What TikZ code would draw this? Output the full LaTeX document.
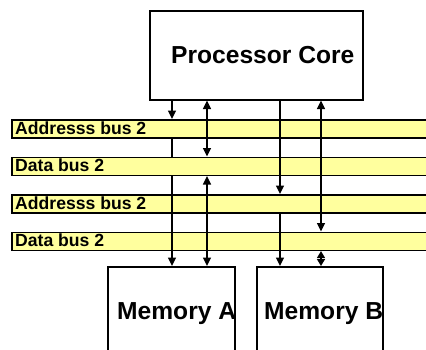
\documentclass[tikz,border=0pt]{standalone}
\usepackage{fontspec}
\setmainfont{Liberation Sans}
\usetikzlibrary{arrows.meta}
\definecolor{busyellow}{RGB}{255,255,158}
\tikzset{
  box/.style={draw=black, line width=1.5pt, fill=white, inner sep=0pt, anchor=north west},
  bus/.style={draw=black, line width=1.6pt, fill=busyellow, inner sep=0pt, anchor=north west, minimum width=430pt, minimum height=18pt},
  buslabel/.style={anchor=base west, inner sep=0pt, font=\bfseries\fontsize{17.6}{17.6}\selectfont},
  bigtext/.style={anchor=base west, inner sep=0pt, font=\bfseries\fontsize{24.6}{24.6}\selectfont},
  wire/.style={line width=1.4pt, draw=black},
  tip/.tip={Triangle[length=8.5pt,width=8pt]},
  smalltip/.tip={Triangle[length=7pt,width=8pt]}
}
\begin{document}
\begin{tikzpicture}[x=1pt,y=-1pt]
\useasboundingbox (0,0) rectangle (426,349);
% boxes
\node[box, minimum width=213pt, minimum height=89pt] (proc) at (149,10) {};
\node[bigtext] (proct) at (171,63) {Processor Core};
\node[box, minimum width=127pt, minimum height=100pt] (mema) at (107,266) {};
\node[box, minimum width=126pt, minimum height=100pt] (memb) at (256,266) {};
% buses
\node[bus] (bus1) at (11,119) {};
\node[bus] (bus2) at (11,156.5) {};
\node[bus] (bus3) at (11,194) {};
\node[bus] (bus4) at (11,231.5) {};
\node[buslabel] (l1) at (15,134) {Addresss bus 2};
\node[buslabel] (l2) at (15,171.5) {Data bus 2};
\node[buslabel] (l3) at (15,209) {Addresss bus 2};
\node[buslabel] (l4) at (15,246.5) {Data bus 2};
% memory texts over boxes
\node[bigtext] (mat) at (117,319) {Memory A};
\node[bigtext] (mbt) at (264,319) {Memory B};
% wire x positions
\coordinate (c1) at (172,0);
\coordinate (c2) at (207,0);
\coordinate (c3) at (280,0);
\coordinate (c4) at (321,0);
% wires
\draw[wire,-tip] (proc.south -| c1) -- (bus1.north -| c1);
\draw[wire] (bus1.south -| c1) -- (bus2.north -| c1);
\draw[wire,-tip] (bus2.south -| c1) -- (mema.north -| c1);
\draw[wire,tip-tip] (proc.south -| c2) -- (bus2.north -| c2);
\draw[wire,tip-tip] (bus2.south -| c2) -- (mema.north -| c2);
\draw[wire,-tip] (proc.south -| c3) -- (bus3.north -| c3);
\draw[wire,-tip] (bus3.south -| c3) -- (memb.north -| c3);
\draw[wire,tip-tip] (proc.south -| c4) -- (bus4.north -| c4);
\draw[wire,smalltip-smalltip] (bus4.south -| c4) -- (memb.north -| c4);
\end{tikzpicture}
\end{document}
